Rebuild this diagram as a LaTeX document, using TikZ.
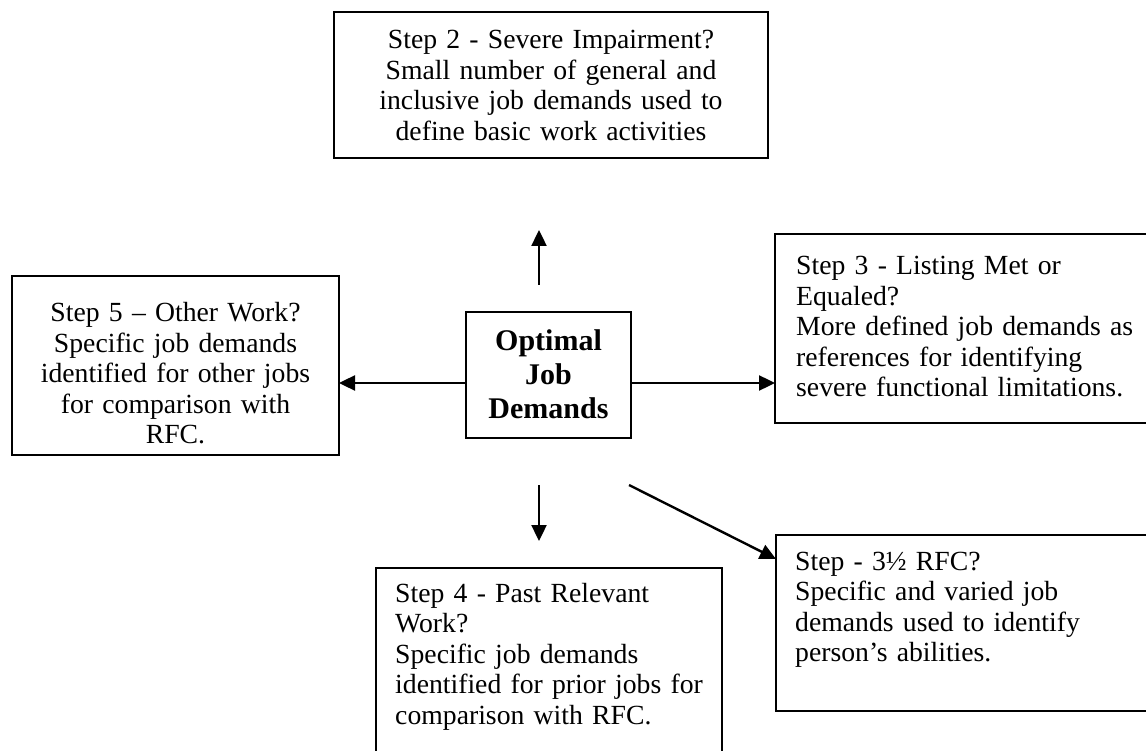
\documentclass[tikz,border=0pt]{standalone}
\usepackage{fontspec}
\setmainfont{Liberation Serif}
\usetikzlibrary{arrows.meta}
\begin{document}
\begin{tikzpicture}[x=1pt,y=-1pt,
  box/.style={draw, line width=1.5pt, inner sep=0pt, outer sep=0pt, anchor=north west},
  txt/.style={inner sep=0pt, font=\fontsize{27.7}{30.5}\selectfont, text width=420pt},
  btxt/.style={inner sep=0pt, font=\fontsize{30}{34}\selectfont\bfseries, text width=200pt, align=center, anchor=base},
  arr/.style={line width=2.4pt, -{Triangle[length=16pt,width=15pt]}}]
\useasboundingbox (0,0) rectangle (1146,751);
\clip (0,0) rectangle (1146,751);
\fill[white] (0,0) rectangle (1146,751);

% boxes
\node[box, minimum width=434pt, minimum height=146pt] (b2) at (334,12) {};
\node[box, minimum width=327pt, minimum height=179pt] (b5) at (12,276) {};
\node[box, minimum width=165pt, minimum height=126pt] (opt) at (466,312) {};
\node[box, minimum width=400pt, minimum height=189pt] (b3) at (775,234) {};
\node[box, minimum width=400pt, minimum height=176pt] (b35) at (776,535) {};
\node[box, minimum width=346pt, minimum height=220pt] (b4) at (376,568) {};

% texts
\node[txt, align=center, anchor=base] (t2) at (551,49)
  {Step 2 - Severe Impairment?\\Small number of general and\\inclusive job demands used to\\define basic work activities};
\node[txt, align=center, anchor=base] (t5) at (175.5,322)
  {Step 5 – Other Work?\\Specific job demands\\identified for other jobs\\for comparison with\\RFC.};
\node[btxt] (topt) at (548.5,351) {Optimal\\Job\\Demands};
\node[txt, align=left, anchor=base west] (t3) at (796,275)
  {Step 3 - Listing Met or\\Equaled?\\More defined job demands as\\references for identifying\\severe functional limitations.};
\node[txt, align=left, anchor=base west] (t35) at (795,570)
  {Step - 3½ RFC?\\Specific and varied job\\demands used to identify\\person’s abilities.};
\node[txt, align=left, anchor=base west] (t4) at (395,602)
  {Step 4 - Past Relevant\\Work?\\Specific job demands\\identified for prior jobs for\\comparison with RFC.};

% connector ends
\coordinate (upS) at (539,285);
\coordinate (upE) at (539,230);
\coordinate (lS) at (466,383);
\coordinate (lE) at (339,383);
\coordinate (rS) at (631,383);
\coordinate (rE) at (775,383);
\coordinate (dS) at (539,485);
\coordinate (dE) at (539,541);
\coordinate (gS) at (629,485);
\coordinate (gE) at (776,559);

\draw[arr] (upS) -- (upE);
\draw[arr] (lS) -- (lE);
\draw[arr] (rS) -- (rE);
\draw[arr] (dS) -- (dE);
\draw[arr] (gS) -- (gE);
\end{tikzpicture}
\end{document}
